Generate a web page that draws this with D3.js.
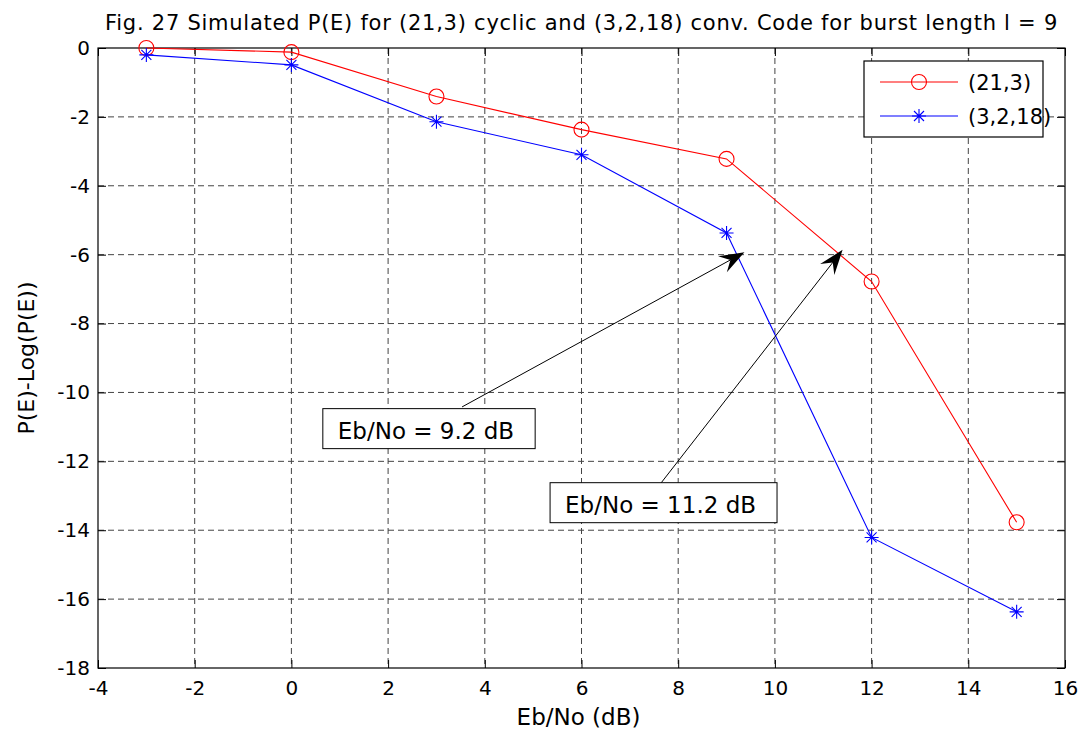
<!DOCTYPE html>
<html lang="en">
<head>
	<meta charset="utf-8">
	<title>Simulated P(E)</title>
	<script src="https://d3js.org/d3.v7.min.js"></script>
	<style type="text/css">
		body { margin: 0; background: #fff; }
		text { font-family: "DejaVu Sans", sans-serif; fill: #000; }
		.axis path { display: none; }
		.axis line { stroke: #000; }
		.axis text { font-size: 20px; }
		.grid line { stroke: #444; stroke-dasharray: 6,4; }
	</style>
</head>
<body>
<script type="text/javascript">

	// Data
	var ebno = [-3, 0, 3, 6, 9, 12, 15];
	var peCyclic = [0, -0.12, -1.41, -2.37, -3.22, -6.78, -13.77];
	var peConv = [-0.2, -0.49, -2.14, -3.1, -5.37, -14.21, -16.37];
	var seriesNames = ["(21,3)", "(3,2,18)"];
	var xTicks = [-4, -2, 0, 2, 4, 6, 8, 10, 12, 14, 16];
	var yTicks = [0, -2, -4, -6, -8, -10, -12, -14, -16, -18];

	// Annotations (data coordinates)
	var noteText = ["Eb/No = 9.2 dB", "Eb/No = 11.2 dB"];
	var noteBox = [[0.65, -10.47], [5.35, -12.62]];
	var noteTail = [[3.53, -10.42], [7.65, -12.62]];
	var noteTip = [[9.37, -5.93], [11.40, -5.86]];

	var margin = {top: 48, right: 16, bottom: 64, left: 98};
	var outer_width = 1081, outer_height = 732;
	var w = outer_width - margin.left - margin.right;
	var h = outer_height - margin.top - margin.bottom;

	var svgRoot = d3.select("body").append("svg")
		.attr("width", outer_width)
		.attr("height", outer_height);
	var svg = svgRoot.append("g")
		.attr("transform", "translate(" + margin.left + "," + margin.top + ")");

	var x = d3.scaleLinear().domain([-4, 16]).range([0, w]);
	var y = d3.scaleLinear().domain([-18, 0]).range([h, 0]);

	// plain hyphen minus like the original
	var fmt = function(d) { return String(d); };

	// grid
	var grid = svg.append("g").attr("class", "grid");
	grid.selectAll(".gx").data(xTicks.slice(1, -1)).enter().append("line")
		.attr("x1", function(d) { return x(d); }).attr("x2", function(d) { return x(d); })
		.attr("y1", 0).attr("y2", h);
	grid.selectAll(".gy").data(yTicks.slice(1, -1)).enter().append("line")
		.attr("y1", function(d) { return y(d); }).attr("y2", function(d) { return y(d); })
		.attr("x1", 0).attr("x2", w);

	// axes, ticks pointing inward
	svg.append("g").attr("class", "axis")
		.attr("transform", "translate(0," + h + ")")
		.call(d3.axisBottom(x).tickValues(xTicks).tickFormat(fmt).tickSizeInner(-8).tickSizeOuter(0).tickPadding(13));
	svg.append("g").attr("class", "axis")
		.call(d3.axisLeft(y).tickValues(yTicks).tickFormat(fmt).tickSizeInner(-8).tickSizeOuter(0).tickPadding(8));
	svg.append("g").attr("class", "axis")
		.call(d3.axisTop(x).tickValues(xTicks).tickSizeInner(-8).tickSizeOuter(0).tickFormat(""));
	svg.append("g").attr("class", "axis")
		.attr("transform", "translate(" + w + ",0)")
		.call(d3.axisRight(y).tickValues(yTicks).tickSizeInner(-8).tickSizeOuter(0).tickFormat(""));

	svg.append("rect")
		.attr("width", w).attr("height", h)
		.attr("fill", "none").attr("stroke", "#000").attr("stroke-width", 1.2);

	var line = d3.line()
		.x(function(d) { return x(d[0]); })
		.y(function(d) { return y(d[1]); });

	var starPath = "M-7,0L7,0M0,-7L0,7M-5,-5L5,5M-5,5L5,-5";

	// series
	var red = d3.zip(ebno, peCyclic);
	var blue = d3.zip(ebno, peConv);

	svg.append("path").datum(red)
		.attr("d", line).attr("fill", "none").attr("stroke", "#ff0000").attr("stroke-width", 1.1);
	svg.append("path").datum(blue)
		.attr("d", line).attr("fill", "none").attr("stroke", "#0000ff").attr("stroke-width", 1.1);

	svg.selectAll(".mred").data(red).enter().append("circle")
		.attr("cx", function(d) { return x(d[0]); })
		.attr("cy", function(d) { return y(d[1]); })
		.attr("r", 7.5).attr("fill", "none").attr("stroke", "#ff0000").attr("stroke-width", 1.1);
	svg.selectAll(".mblue").data(blue).enter().append("path")
		.attr("transform", function(d) { return "translate(" + x(d[0]) + "," + y(d[1]) + ")"; })
		.attr("d", starPath).attr("fill", "none").attr("stroke", "#0000ff").attr("stroke-width", 1.1);

	// annotations: text box plus arrow
	for (var i = 0; i < noteText.length; i++) {
		var bx = x(noteBox[i][0]), by = y(noteBox[i][1]);
		var ng = svg.append("g");
		var box = ng.append("rect")
			.attr("x", bx).attr("y", by).attr("height", 40)
			.attr("fill", "#fff").attr("stroke", "#000").attr("stroke-width", 1);
		var t = ng.append("text")
			.attr("x", bx + 15).attr("y", by + 30)
			.style("font-size", "23px")
			.text(noteText[i]);
		box.attr("width", t.node().getComputedTextLength() + 36);

		var x0 = x(noteTail[i][0]), y0 = y(noteTail[i][1]);
		var x1 = x(noteTip[i][0]), y1 = y(noteTip[i][1]);
		var len = Math.hypot(x1 - x0, y1 - y0);
		var ux = (x1 - x0) / len, uy = (y1 - y0) / len;
		var nx = -uy, ny = ux;
		svg.append("line")
			.attr("x1", x0).attr("y1", y0)
			.attr("x2", x1 - ux * 14).attr("y2", y1 - uy * 14)
			.attr("stroke", "#000").attr("stroke-width", 1);
		var hl = 25, hw = 9, notch = 16;
		var pts = [
			[x1, y1],
			[x1 - ux * hl + nx * hw, y1 - uy * hl + ny * hw],
			[x1 - ux * notch, y1 - uy * notch],
			[x1 - ux * hl - nx * hw, y1 - uy * hl - ny * hw]
		];
		svg.append("path")
			.attr("d", "M" + pts.map(function(p) { return p.join(","); }).join("L") + "Z")
			.attr("fill", "#000");
	}

	// legend
	var lg = svg.append("g").attr("transform", "translate(" + (w - 201) + ",13)");
	lg.append("rect").attr("width", 179).attr("height", 76)
		.attr("fill", "#fff").attr("stroke", "#000").attr("stroke-width", 1.2);
	var rows = lg.selectAll(".row").data(seriesNames).enter().append("g")
		.attr("transform", function(d, i) { return "translate(0," + (21 + i * 34) + ")"; });
	rows.append("line").attr("x1", 16).attr("x2", 94)
		.attr("stroke", function(d, i) { return i ? "#0000ff" : "#ff0000"; }).attr("stroke-width", 1.1);
	rows.filter(function(d, i) { return i === 0; }).append("circle")
		.attr("cx", 55).attr("r", 7.5).attr("fill", "none").attr("stroke", "#ff0000").attr("stroke-width", 1.1);
	rows.filter(function(d, i) { return i === 1; }).append("path")
		.attr("transform", "translate(55,0)").attr("d", starPath)
		.attr("fill", "none").attr("stroke", "#0000ff").attr("stroke-width", 1.1);
	rows.append("text").attr("x", 104).attr("y", 8).style("font-size", "21px")
		.text(function(d) { return d; });

	// titles
	svgRoot.append("text")
		.attr("x", margin.left + w / 2).attr("y", 30)
		.attr("text-anchor", "middle").style("font-size", "21px")
		.style("letter-spacing", "0.75px")
		.text("Fig. 27 Simulated P(E) for (21,3) cyclic and (3,2,18) conv. Code for burst length l = 9");
	svgRoot.append("text")
		.attr("x", margin.left + w / 2 - 3).attr("y", 725)
		.attr("text-anchor", "middle").style("font-size", "23px")
		.text("Eb/No (dB)");
	svgRoot.append("text")
		.attr("transform", "translate(34," + (margin.top + h / 2) + ") rotate(-90)")
		.attr("text-anchor", "middle").style("font-size", "22px")
		.text("P(E)-Log(P(E))");

</script>
</body>
</html>
